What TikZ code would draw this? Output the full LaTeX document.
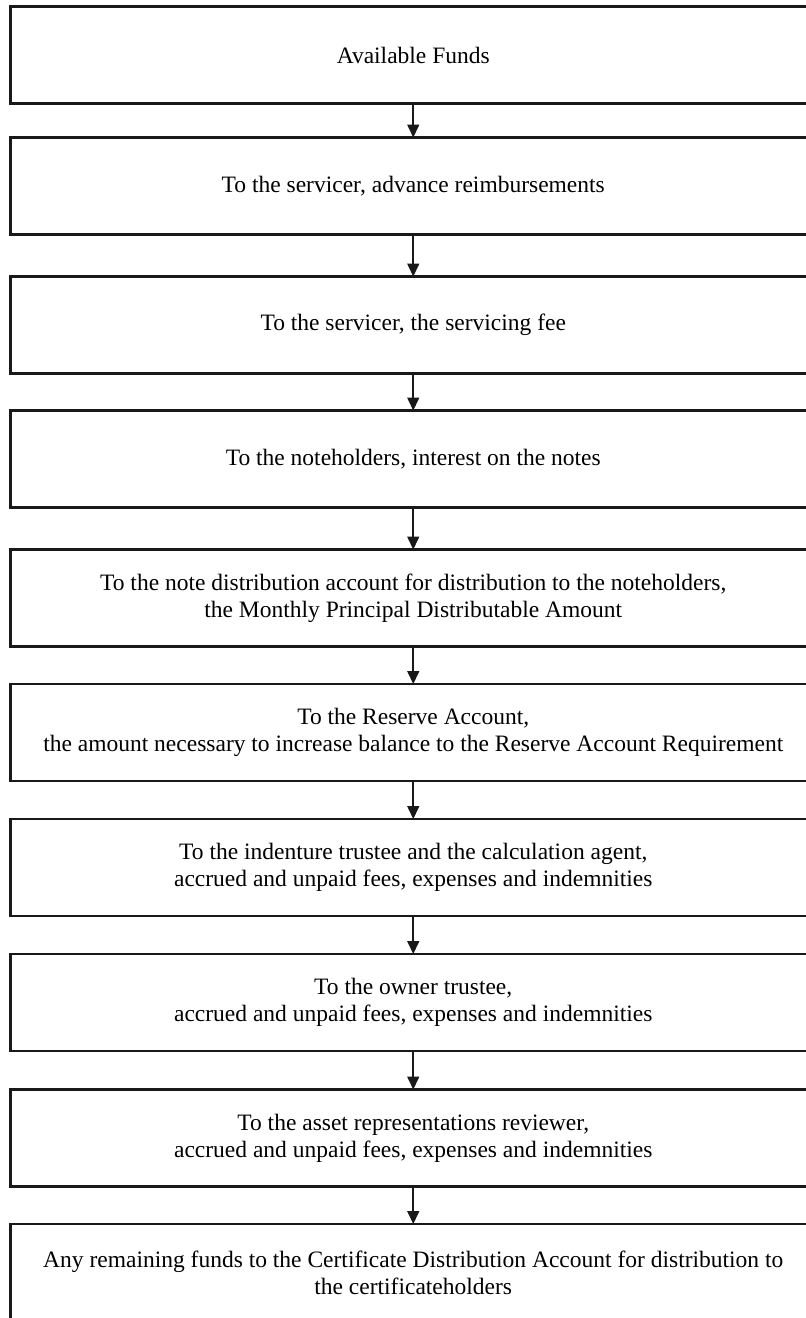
\documentclass[tikz,border=0pt]{standalone}
\usepackage{fontspec}
\setmainfont{Liberation Serif}
\usetikzlibrary{arrows.meta}
\begin{document}
\begin{tikzpicture}[x=1pt,y=-1pt,
  stage/.style={draw=black!90, line width=2.6pt, minimum width=805.5pt, minimum height=97pt,
    inner sep=0pt, outer sep=0pt, align=center, font=\fontsize{23.5}{27}\selectfont},
  flow/.style={-{Triangle[length=13pt,width=12pt]}, line width=1.6pt, draw=black!90}]
\path[use as bounding box] (0,0) rectangle (806,1318);
\clip (0,0) rectangle (806,1318);
\node[stage] (b1) at (413.25,55) {Available Funds};
\node[stage] (b2) at (413.25,186) {To the servicer, advance reimbursements};
\node[stage] (b3) at (413.25,325) {To the servicer, the servicing fee};
\node[stage] (b4) at (413.25,459) {To the noteholders, interest on the notes};
\node[stage] (b5) at (413.25,598) {To the note distribution account for distribution to the noteholders,\\the Monthly Principal Distributable Amount};
\node[stage] (b6) at (413.25,732.5) {To the Reserve Account,\\the amount necessary to increase balance to the Reserve Account Requirement};
\node[stage] (b7) at (413.25,867.5) {To the indenture trustee and the calculation agent,\\accrued and unpaid fees, expenses and indemnities};
\node[stage] (b8) at (413.25,1002.5) {To the owner trustee,\\accrued and unpaid fees, expenses and indemnities};
\node[stage] (b9) at (413.25,1138) {To the asset representations reviewer,\\accrued and unpaid fees, expenses and indemnities};
\node[stage] (b10) at (413.25,1272.5) {Any remaining funds to the Certificate Distribution Account for distribution to\\the certificateholders};
\foreach \a/\b in {b1/b2,b2/b3,b3/b4,b4/b5,b5/b6,b6/b7,b7/b8,b8/b9,b9/b10}
  \draw[flow] (\a.south) -- (\b.north);
\end{tikzpicture}
\end{document}
